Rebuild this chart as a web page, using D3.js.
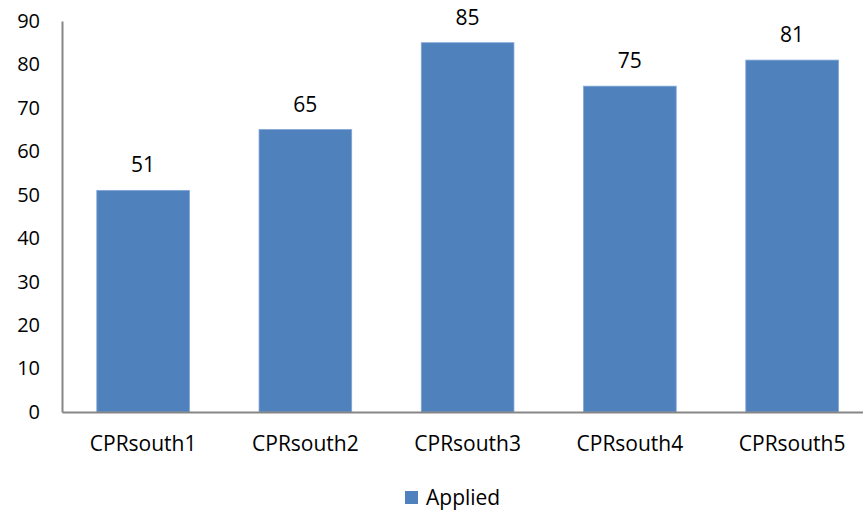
<!DOCTYPE html>
<html><head><meta charset="utf-8">
<script src="https://cdn.jsdelivr.net/npm/d3@7"></script>
<style>body{margin:0;background:#fff}svg{display:block}text{font-family:"Open Sans","Liberation Sans",sans-serif;fill:#000}</style>
</head><body><svg id="c" width="863" height="512"></svg>
<script>
const categories = ["CPRsouth1","CPRsouth2","CPRsouth3","CPRsouth4","CPRsouth5"];
const applied = [51,65,85,75,81];
const yTicks = [0,10,20,30,40,50,60,70,80,90];
const seriesName = "Applied";

const svg = d3.select("#c");
const x = d3.scaleBand().domain(categories).range([62, 873.25]).paddingInner(0.429).paddingOuter(0.2145);
const y = d3.scaleLinear().domain([0,90]).range([412, 21]);

svg.selectAll("rect.bar").data(applied).join("rect").attr("class","bar")
  .attr("x",(d,i)=>x(categories[i])).attr("width",x.bandwidth())
  .attr("y",d=>y(d)).attr("height",d=>y(0)-y(d))
  .attr("fill","#4F81BD").attr("stroke","#7EA5D6").attr("stroke-width",0.8);

const yAxis = svg.append("g").attr("transform","translate(62,0)")
  .call(d3.axisLeft(y).tickValues(yTicks).tickSize(0).tickPadding(22));
yAxis.select(".domain").attr("stroke","#868686").attr("stroke-width",2);
yAxis.selectAll("text").style("font-size","20px");

const xAxis = svg.append("g").attr("transform","translate(0,412)")
  .call(d3.axisBottom(x).tickSize(0).tickPadding(24));
xAxis.select(".domain").attr("stroke","#868686").attr("stroke-width",2);
xAxis.selectAll("text").style("font-size","21px");

svg.selectAll("text.val").data(applied).join("text").attr("class","val")
  .attr("x",(d,i)=>x(categories[i])+x.bandwidth()/2).attr("y",d=>y(d)-18)
  .attr("text-anchor","middle").style("font-size","21px").text(d=>d);

const lg = svg.append("g").attr("transform","translate(405,491)");
lg.append("rect").attr("width",13).attr("height",13).attr("fill","#4F81BD");
lg.append("text").attr("x",21).attr("y",14).style("font-size","21px").text(seriesName);
</script></body></html>
